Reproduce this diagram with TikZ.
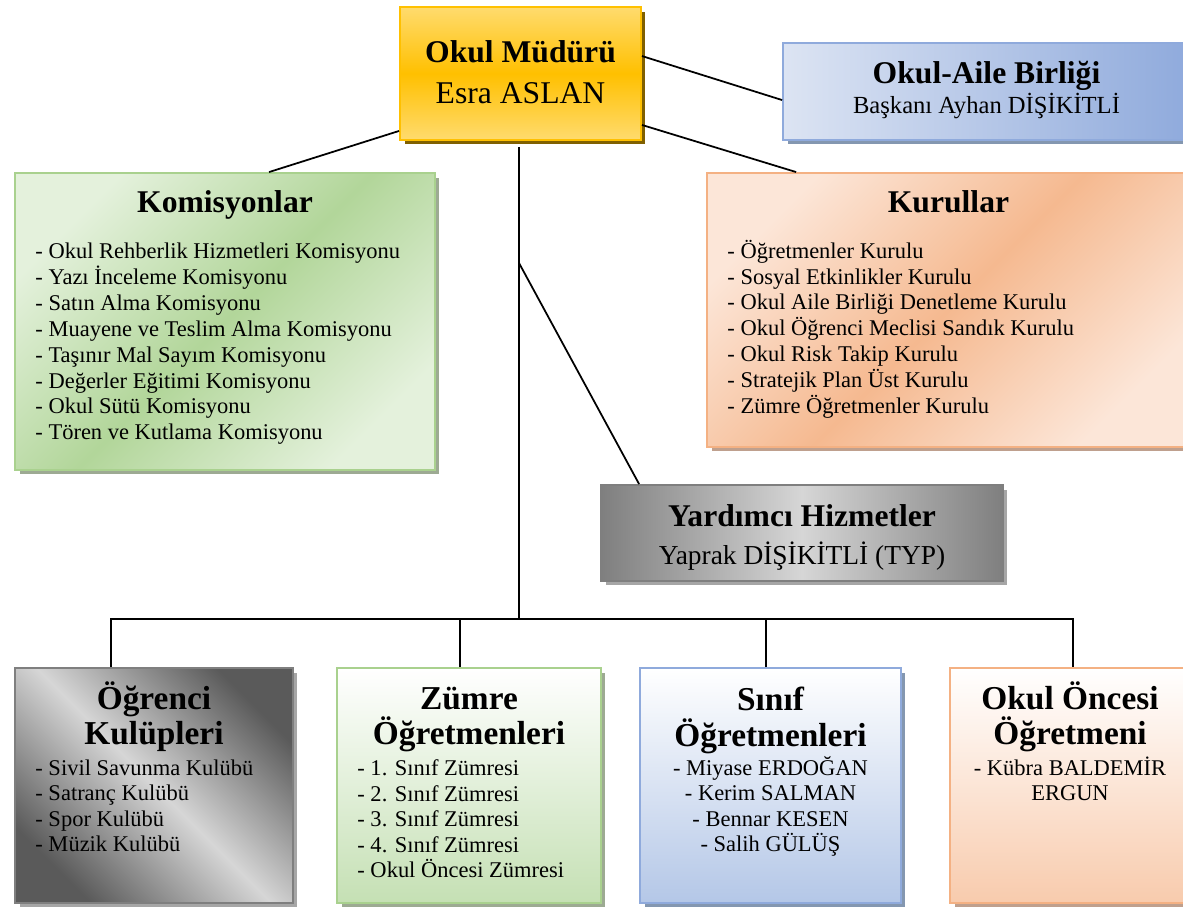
\documentclass[tikz,border=0pt]{standalone}
\usepackage{fontspec}
\setmainfont{Liberation Serif}
\usetikzlibrary{positioning,shadows,calc}

\definecolor{gold}{HTML}{FFC000}
\definecolor{goldlt}{HTML}{FFDB6E}
\definecolor{golddk}{HTML}{806000}
\definecolor{bluedk}{HTML}{8FAADC}
\definecolor{bluelt}{HTML}{DCE4F3}
\definecolor{bluebot}{HTML}{B4C7E7}
\definecolor{bluesh}{HTML}{8497B0}
\definecolor{greendk}{HTML}{A9D18E}
\definecolor{greenlt}{HTML}{E4F1DC}
\definecolor{greenbot}{HTML}{C5E0B4}
\definecolor{greensh}{HTML}{9DAA93}
\definecolor{orangedk}{HTML}{F4B183}
\definecolor{orangelt}{HTML}{FCE6D8}
\definecolor{orangebot}{HTML}{F8CBAD}
\definecolor{orangesh}{HTML}{BFA08E}
\definecolor{graydk}{HTML}{7F7F7F}
\definecolor{graydkr}{HTML}{5A5A5A}
\definecolor{graylt}{HTML}{D6D6D6}
\definecolor{graysh}{HTML}{A6A6A6}

\begin{document}
\begin{tikzpicture}[x=0.02cm, y=-0.02cm,
link/.style = {draw=black, line width=1pt},
 box/.style args = {#1/#2}{%
      rectangle, draw=#1, line width=1.1pt, inner sep=0pt,
      drop shadow={shadow xshift=0.09cm, shadow yshift=-0.09cm,
                   fill=#2, opacity=1}},
 ttl/.style = {font=\fontsize{18}{18}\selectfont\bfseries,
      align=center, inner sep=0pt},
 ttlb/.style = {font=\fontsize{19}{20}\selectfont\bfseries,
      align=center, inner sep=0pt},
 sub/.style = {font=\fontsize{18}{18}\selectfont, inner sep=0pt},
 lst/.style = {font=\fontsize{12.8}{14.75}\selectfont,
      align=left, inner sep=0pt},
 lstb/.style = {font=\fontsize{12.8}{14.5}\selectfont,
      inner sep=0pt}
                    ]
\useasboundingbox (0,0) rectangle (1183,908);
% boxes
\node(mudur) [box=gold/golddk, top color=goldlt, bottom color=goldlt,
   middle color=gold, minimum width=4.82cm, minimum height=2.66cm]
   at (520.5,73.5) {};
\node(aile) [box=bluedk/bluesh, left color=bluelt, right color=bluedk,
   minimum width=8.14cm, minimum height=1.94cm] at (986.5,91.5) {};
\node(komis) [box=greendk/greensh, top color=greenlt, bottom color=greenlt,
   middle color=greendk!85!greenlt, shading angle=45,
   minimum width=8.4cm, minimum height=5.94cm] at (225,321.5) {};
\node(kurul) [box=orangedk/orangesh, top color=orangelt, bottom color=orangelt,
   middle color=orangedk!85!orangelt, shading angle=45,
   minimum width=9.66cm, minimum height=5.48cm] at (948.5,310) {};
\node(yard) [box=graydk/graysh, left color=graydk, right color=graydk,
   middle color=graylt, minimum width=8.04cm, minimum height=1.92cm]
   at (802,533) {};
\node(kulup) [box=graydk/graysh, top color=graydkr, bottom color=graydkr,
   middle color=graylt, shading angle=-45,
   minimum width=5.56cm, minimum height=4.7cm] at (154,785.5) {};
\node(zumre) [box=greendk/greensh, top color=white, bottom color=greenbot,
   minimum width=5.28cm, minimum height=4.7cm] at (469,785.5) {};
\node(sinif) [box=bluedk/bluesh, top color=white, bottom color=bluebot,
   minimum width=5.22cm, minimum height=4.7cm] at (770.5,785.5) {};
\node(oncesi) [box=orangedk/orangesh, top color=white, bottom color=orangebot,
   minimum width=4.8cm, minimum height=4.7cm] at (1070,785.5) {};
%
\node(mudurT) [ttl, below=1.12cm of mudur.north, anchor=base] {Okul Müdürü};
\node(mudurN) [sub, below=0.82cm of mudurT.base, anchor=base] {Esra ASLAN};
\node(aileT) [ttl, below=0.82cm of aile.north, anchor=base] {Okul-Aile Birliği};
\node(aileN) [sub, font=\fontsize{14}{14}\selectfont,
   below=0.6cm of aileT.base, anchor=base] {Başkanı Ayhan DİŞİKİTLİ};
\node(yardT) [ttl, below=0.84cm of yard.north, anchor=base] {Yardımcı Hizmetler};
\node(yardN) [sub, font=\fontsize{15.6}{15.6}\selectfont,
   below=0.76cm of yardT.base, anchor=base] {Yaprak DİŞİKİTLİ (TYP)};
%
\node(komisT) [ttl, below=0.8cm of komis.north, anchor=base] {Komisyonlar};
\node(komisL) [lst, below right=1.41cm and 0.42cm of komis.north west]
   {- Okul Rehberlik Hizmetleri Komisyonu\\
   - Yazı İnceleme Komisyonu\\- Satın Alma Komisyonu\\
   - Muayene ve Teslim Alma Komisyonu\\- Taşınır Mal Sayım Komisyonu\\
   - Değerler Eğitimi Komisyonu\\- Okul Sütü Komisyonu\\
   - Tören ve Kutlama Komisyonu};
\node(kurulT) [ttl, below=0.8cm of kurul.north, anchor=base] {Kurullar};
\node(kurulL) [lst, below right=1.35cm and 0.42cm of kurul.north west]
   {- Öğretmenler Kurulu\\- Sosyal Etkinlikler Kurulu\\
   - Okul Aile Birliği Denetleme Kurulu\\- Okul Öğrenci Meclisi Sandık Kurulu\\
   - Okul Risk Takip Kurulu\\- Stratejik Plan Üst Kurulu\\
   - Zümre Öğretmenler Kurulu};
%
\node(kulupT) [ttlb, below=0.29cm of kulup.north] {Öğrenci\\Kulüpleri};
\node(kulupL) [lstb, align=left, below right=1.85cm and 0.42cm of kulup.north west]
   {- Sivil Savunma Kulübü\\- Satranç Kulübü\\
   - Spor Kulübü\\- Müzik Kulübü};
\node(zumreT) [ttlb, below=0.4cm of zumre.north] {Zümre\\Öğretmenleri};
\node(zumreL) [lstb, align=left, below right=1.85cm and 0.42cm of zumre.north west]
   {- 1. Sınıf Zümresi\\- 2. Sınıf Zümresi\\
   - 3. Sınıf Zümresi\\- 4. Sınıf Zümresi\\- Okul Öncesi Zümresi};
\node(sinifT) [ttlb, below=0.4cm of sinif.north] {Sınıf\\Öğretmenleri};
\node(sinifL) [lstb, align=center, below=1.78cm of sinif.north]
   {- Miyase ERDOĞAN\\- Kerim SALMAN\\- Bennar KESEN\\- Salih GÜLÜŞ};
\node(oncesiT) [ttlb, below=0.29cm of oncesi.north] {Okul Öncesi\\Öğretmeni};
\node(oncesiL) [lstb, align=center, below=1.79cm of oncesi.north]
   {- Kübra BALDEMİR\\ERGUN};
%
\coordinate (knee) at (519,263);
\path[link] ($(mudur.south west)+(0,-10)$) -- ($(komis.north west)+(255,0)$);
\path[link] ($(mudur.north east)+(0,50)$) -- ($(aile.north west)+(0,58)$);
\path[link] ($(mudur.south east)+(0,-16)$) -- ($(kurul.north west)+(90,0)$);
\path[link] ($(mudur.south -| knee)+(0,6)$) -- (knee) -- (knee |- 0,620);
\path[link] (knee) -- ($(yard.north west)+(39,0)$);
\path[link] ($(kulup.north west)+(97,0)$) -- ++(0,-48)
   -| ($(oncesi.north west)+(124,0)$);
\path[link] ($(zumre.north west)+(124,0)$) -- ++(0,-48);
\path[link] ($(sinif.north west)+(127,0)$) -- ++(0,-48);
\end{tikzpicture}
\end{document}
